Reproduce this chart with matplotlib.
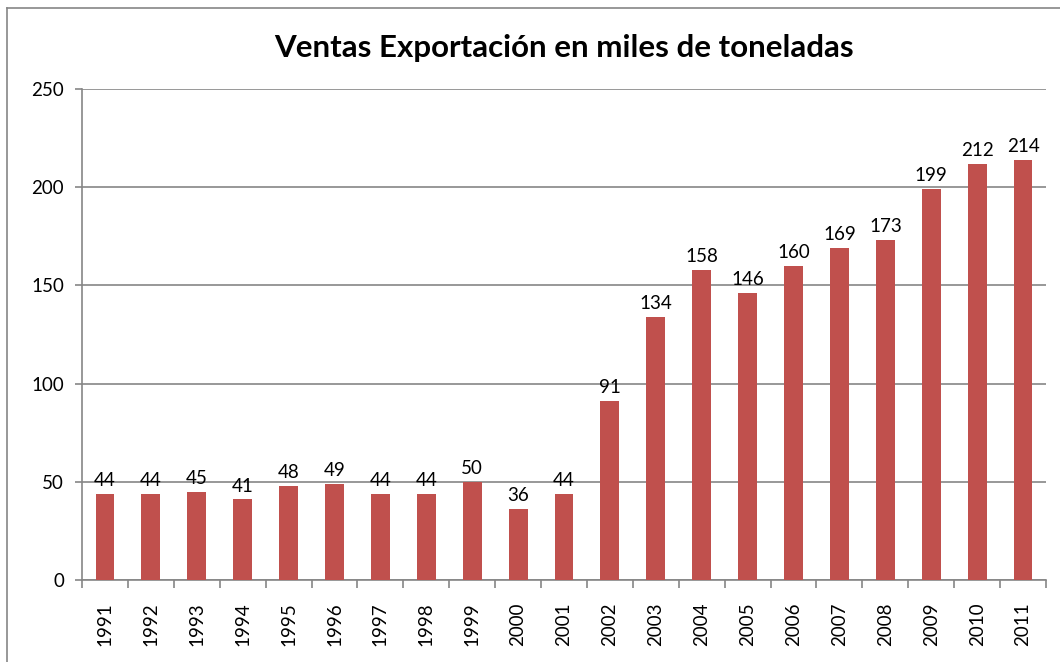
import numpy as np
import matplotlib
matplotlib.use("Agg")
import matplotlib.pyplot as plt
from matplotlib.lines import Line2D

years = [str(y) for y in range(1991, 2012)]
ventas = [44, 44, 45, 41, 48, 49, 44, 44, 50, 36, 44, 91, 134, 158, 146, 160, 169, 173, 199, 212, 214]
y_ticks = [0, 50, 100, 150, 200, 250]

plt.rcParams['font.family'] = ['Lato', 'DejaVu Sans']

W, H = 1060, 662
fig = plt.figure(figsize=(W / 100, H / 100), dpi=100)
ax = fig.add_axes([82 / W, 1 - 580 / H, (1046 - 82) / W, (580 - 89) / H])

x = np.arange(len(years))
bars = ax.bar(x, ventas, width=0.41, color='#C0504D', zorder=3)
for xi, v in zip(x, ventas):
    ax.text(xi, v + 2.5, str(v), ha='center', va='bottom', fontsize=13.5, color='black')

ax.set_xlim(-0.5, len(years) - 0.5)
ax.set_ylim(0, 250)
ax.set_yticks(y_ticks)
ax.set_yticklabels([str(t) for t in y_ticks], fontsize=13.5)
ax.yaxis.grid(True, color='#868686', linewidth=1.2, zorder=0)

# category labels centred, tick marks between categories
ax.set_xticks(x)
ax.set_xticklabels(years, rotation=90, fontsize=13.5)
ax.tick_params(axis='x', length=0, pad=16)
ax.set_xticks(np.arange(-0.5, len(years)), minor=True)
ax.tick_params(axis='x', which='minor', length=6, color='#868686', width=1.2)
ax.tick_params(axis='y', length=5, color='#868686', width=1.2, pad=8)

for s in ['top', 'right']:
    ax.spines[s].set_visible(False)
for s in ['left', 'bottom']:
    ax.spines[s].set_color('#868686')
    ax.spines[s].set_linewidth(1.2)

fig.text(564 / W, 1 - 48 / H, 'Ventas Exportación en miles de toneladas',
         ha='center', va='center', fontsize=22.5, fontweight='bold')

# chart frame (cropped screenshot)
fig.add_artist(Line2D([7 / W, 7 / W], [0, 1 - 8 / H], color='#868686', linewidth=1.2))
fig.add_artist(Line2D([7 / W, 1], [1 - 8 / H, 1 - 8 / H], color='#868686', linewidth=1.2))

fig.savefig('out.png', dpi=100)
